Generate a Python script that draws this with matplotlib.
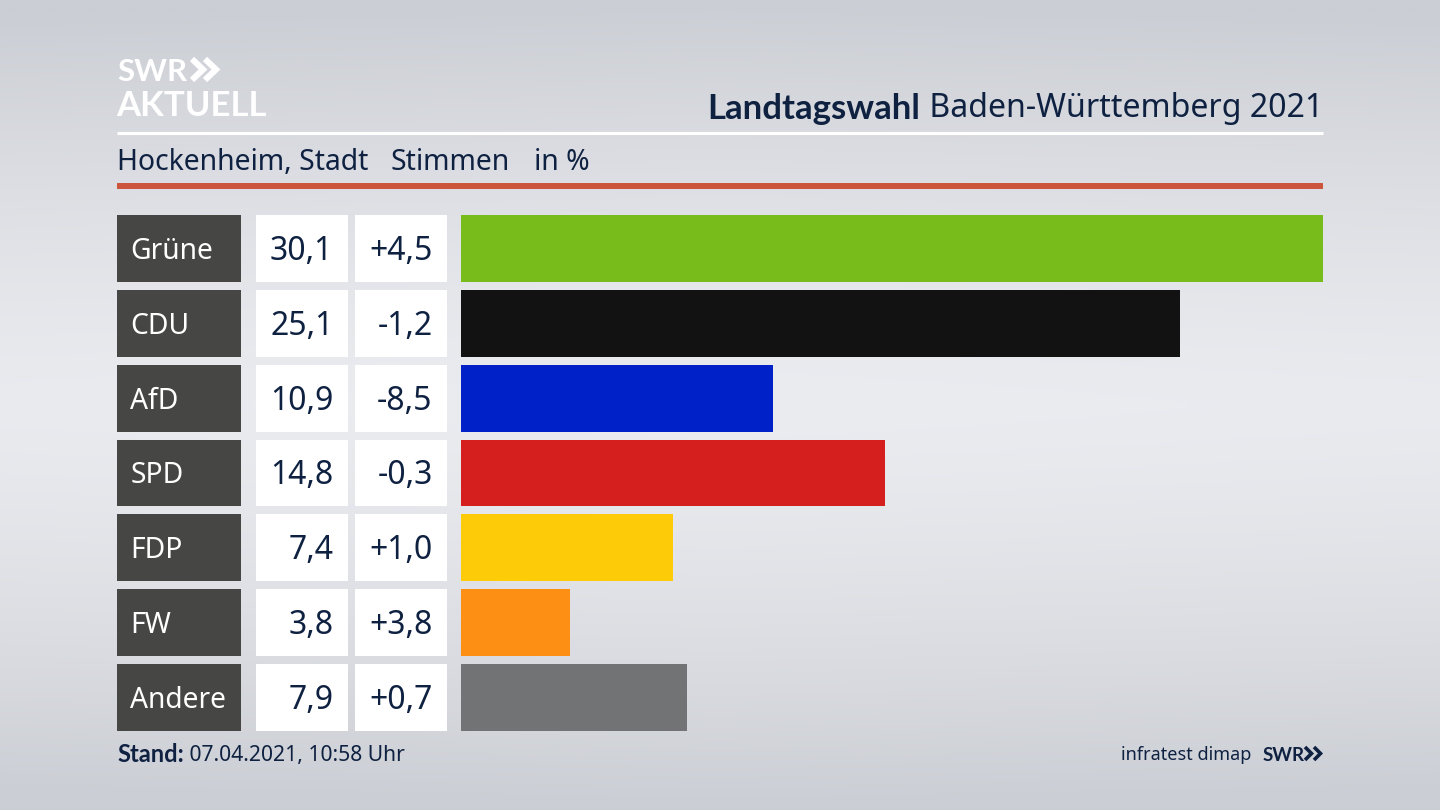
import numpy as np
import matplotlib
matplotlib.use('Agg')
import matplotlib.pyplot as plt

plt.rcParams['font.family'] = ['Noto Sans', 'DejaVu Sans']

parties = ['Grüne', 'CDU', 'AfD', 'SPD', 'FDP', 'FW', 'Andere']
votes = [30.1, 25.1, 10.9, 14.8, 7.4, 3.8, 7.9]
changes = ['+4,5', '-1,2', '-8,5', '-0,3', '+1,0', '+3,8', '+0,7']
colors = ['#78bc1b', '#121212', '#0020c8', '#d51f1f', '#fdcb08', '#fd8f14', '#727375']

NAVY = '#0f2141'
BOLD = ['Lato', 'DejaVu Sans']
W, H = 1440, 810


def px_axes(fig, x0, y0, x1, y1):
    return fig.add_axes([x0 / W, 1 - y1 / H, (x1 - x0) / W, (y1 - y0) / H])


fig = plt.figure(figsize=(14.4, 8.1), dpi=100)

# background: light band in the middle, darker towards top and bottom
bg = fig.add_axes([0, 0, 1, 1])
yy, xx = np.mgrid[0:1:162j, 0:1:288j]
shade = np.clip(1 - (np.abs(yy - 0.5) / 0.5) ** 1.4 - 0.1 * np.abs(xx - 0.5), 0, 1)
top = np.array([203, 206, 212]) / 255
mid = np.array([235, 236, 240]) / 255
bg.imshow(top + (mid - top) * shade[..., None], aspect='auto', extent=(0, W, H, 0), interpolation='bilinear')
bg.set_xlim(0, W)
bg.set_ylim(H, 0)
bg.axis('off')

# header
bg.text(117, 81, 'SWR', color='white', fontsize=22.5, fontweight='bold', family=BOLD, va='baseline', ha='left')
bg.text(116, 116, 'AKTUELL', color='white', fontsize=25, fontweight='bold', family=BOLD, va='baseline', ha='left')
for cx in (192, 205):
    bg.plot([cx, cx + 11, cx], [59, 69.5, 80], color='white', lw=4.4, solid_joinstyle='miter', solid_capstyle='butt')

title = bg.text(1323, 117, ' Baden-Württemberg 2021', color=NAVY, fontsize=23.1, va='baseline', ha='right')
bg.annotate('Landtagswahl', xy=(0, 0), xycoords=title, color=NAVY, fontsize=25, fontweight='bold', family=BOLD, va='bottom', ha='right')

bg.plot([117, 1323], [133, 133], color='white', lw=2.2, solid_capstyle='butt')
bg.plot([117, 1323], [186, 186], color='#cc543a', lw=4.3, solid_capstyle='butt')
for x, s in [(117, 'Hockenheim, Stadt'), (390, 'Stimmen'), (534, 'in %')]:
    bg.text(x, 170, s, color=NAVY, fontsize=20.4, va='baseline', ha='left')

# table columns + bars share the same row layout
rows = np.arange(len(parties))
label_ax = px_axes(fig, 117, 215, 241, 731)
value_ax = px_axes(fig, 256, 215, 348, 731)
change_ax = px_axes(fig, 355, 215, 447, 731)
bar_ax = px_axes(fig, 461, 215, 1323, 731)

BAR_H = 0.895
for ax in (label_ax, value_ax, change_ax, bar_ax):
    ax.set_ylim(len(parties) - 1 + BAR_H / 2, -BAR_H / 2)
    ax.axis('off')

label_ax.barh(rows, [1] * len(rows), height=BAR_H, color='#464644')
value_ax.barh(rows, [1] * len(rows), height=BAR_H, color='white')
change_ax.barh(rows, [1] * len(rows), height=BAR_H, color='white')
bar_ax.barh(rows, votes, height=BAR_H, color=colors)
for ax in (label_ax, value_ax, change_ax):
    ax.set_xlim(0, 1)
bar_ax.set_xlim(0, max(votes))

# text is shifted down a bit from the row centre
for i in rows:
    label_ax.text(0.108, i + 0.04, parties[i], color='white', fontsize=20.3, va='center', ha='left')
    value_ax.text(0.84, i + 0.04, f'{votes[i]:.1f}'.replace('.', ','), color=NAVY, fontsize=23, va='center', ha='right')
    change_ax.text(0.845, i + 0.04, changes[i], color=NAVY, fontsize=23, va='center', ha='right')

# footer
stand = bg.text(117, 762, 'Stand:', color=NAVY, fontsize=17, fontweight='bold', family=BOLD, va='baseline', ha='left')
bg.annotate(' 07.04.2021, 10:58 Uhr', xy=(1, 0), xycoords=stand, color=NAVY, fontsize=15.2, va='bottom', ha='left')
bg.text(1251, 760, 'infratest dimap', color=NAVY, fontsize=13, va='baseline', ha='right')
bg.text(1263, 761, 'SWR', color=NAVY, fontsize=13.5, fontweight='bold', family=BOLD, va='baseline', ha='left')
for cx in (1305, 1314):
    bg.plot([cx, cx + 6.5, cx], [747, 753.5, 760], color=NAVY, lw=2.6, solid_joinstyle='miter', solid_capstyle='butt')

fig.savefig('out.png', dpi=100)
